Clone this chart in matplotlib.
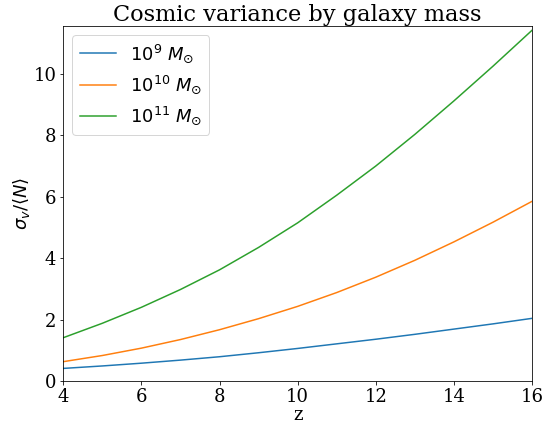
import matplotlib
matplotlib.use("Agg")
import matplotlib.pyplot as plt

z = [4, 5, 6, 7, 8, 9, 10, 11, 12, 13, 14, 15, 16]
m9 = [0.41, 0.49, 0.58, 0.68, 0.79, 0.92, 1.06, 1.21, 1.36, 1.52, 1.69, 1.86, 2.04]
m10 = [0.63, 0.83, 1.07, 1.35, 1.67, 2.03, 2.43, 2.88, 3.38, 3.93, 4.53, 5.17, 5.85]
m11 = [1.41, 1.88, 2.40, 2.98, 3.62, 4.35, 5.15, 6.05, 7.00, 8.03, 9.12, 10.25, 11.42]
labels = [r"$10^{9}\ M_{\odot}$", r"$10^{10}\ M_{\odot}$", r"$10^{11}\ M_{\odot}$"]

plt.rcParams['font.family'] = 'DejaVu Serif'

fig = plt.figure(figsize=(546 / 72, 427 / 72), dpi=72)
ax = fig.add_axes([63.3 / 546, 1 - 381 / 427, (532 - 63.3) / 546, (381 - 26) / 427])
for y, lab in zip([m9, m10, m11], labels):
    ax.plot(z, y, label=lab)
ax.set_xlim(4, 16)
ax.set_ylim(0, 11.56)
ax.set_xticks([4, 6, 8, 10, 12, 14, 16])
ax.set_yticks([0, 2, 4, 6, 8, 10])
ax.tick_params(labelsize=18)
ax.set_xlabel("z", fontsize=18, labelpad=0)
ax.set_ylabel(r"$\sigma_v/\langle N\rangle$", fontsize=18, labelpad=1)
ax.set_title("Cosmic variance by galaxy mass", fontsize=22.5, pad=3)
ax.legend(loc="upper left", fontsize=18)
fig.savefig("out.png", dpi=72)
